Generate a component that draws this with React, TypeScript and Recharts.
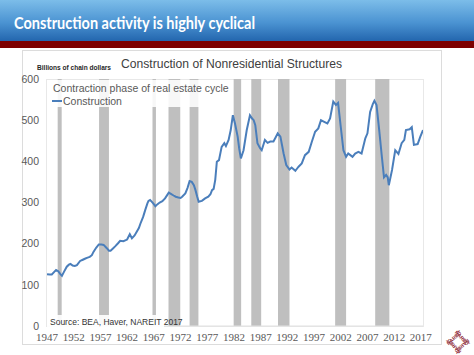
import { ComposedChart, Line, XAxis, YAxis, ReferenceArea } from "recharts";

// Construction of nonresidential structures, billions of chain dollars
const years = [
  1947.0, 1947.5, 1947.9, 1948.4, 1948.7, 1949.1, 1949.5, 1949.8, 1950.2, 1950.7,
  1951.1, 1951.4, 1951.8, 1952.2, 1952.6, 1953.2, 1953.7, 1954.2, 1954.6, 1955.0,
  1955.4, 1955.7, 1956.2, 1956.7, 1957.2, 1957.6, 1958.2, 1958.6, 1958.9, 1959.4,
  1959.8, 1960.3, 1960.7, 1961.3, 1962.0, 1962.5, 1962.9, 1963.4, 1963.8, 1964.2,
  1964.5, 1965.0, 1965.4, 1965.8, 1966.0, 1966.3, 1966.6, 1967.0, 1967.3, 1967.7,
  1968.1, 1968.6, 1969.1, 1969.5, 1969.8, 1970.2, 1970.7, 1971.1, 1971.6, 1972.0,
  1972.3, 1972.9, 1973.3, 1973.7, 1974.1, 1974.5, 1974.8, 1975.1, 1975.4, 1975.7,
  1976.0, 1976.6, 1977.2, 1977.6, 1977.9, 1978.2, 1978.5, 1978.8, 1979.2, 1979.7,
  1980.2, 1980.5, 1981.0, 1981.4, 1981.8, 1982.2, 1982.7, 1983.0, 1983.3, 1983.8,
  1984.4, 1985.0, 1985.4, 1985.7, 1986.0, 1986.4, 1986.9, 1987.2, 1987.8, 1988.3,
  1988.8, 1989.4, 1989.8, 1990.2, 1990.7, 1991.3, 1991.8, 1992.4, 1992.8, 1993.5,
  1993.8, 1994.1, 1994.7, 1995.3, 1996.0, 1996.6, 1997.2, 1997.8, 1998.3, 1998.9,
  1999.5, 2000.0, 2000.6, 2001.1, 2001.5, 2002.0, 2002.5, 2003.0, 2003.4, 2003.8,
  2004.2, 2004.7, 2005.3, 2005.9, 2006.6, 2007.0, 2007.5, 2008.0, 2008.3, 2008.7,
  2009.2, 2009.7, 2010.1, 2010.5, 2010.8, 2011.0, 2011.6, 2012.2, 2012.8, 2013.4,
  2013.9, 2014.2, 2014.9, 2015.3, 2015.7, 2016.4, 2016.9, 2017.4,
];
const construction = [
  126, 125, 125, 132, 136, 133, 126, 122, 132, 144,
  149, 151, 147, 146, 148, 158, 161, 164, 166, 168,
  172, 180, 190, 198, 198, 197, 189, 183, 183, 189,
  194, 201, 207, 206, 210, 223, 213, 220, 229, 238,
  249, 265, 282, 298, 304, 306, 302, 296, 291, 296,
  300, 303, 310, 318, 324, 321, 317, 314, 312, 311,
  314, 322, 335, 352, 350, 342, 330, 315, 302, 303,
  304, 310, 314, 320, 330, 333, 355, 399, 403, 435,
  444, 437, 452, 476, 512, 492, 460, 430, 407, 427,
  476, 512, 504, 500, 488, 444, 432, 427, 452, 445,
  448, 448, 458, 468, 460, 419, 391, 380, 385, 377,
  382, 387, 395, 415, 423, 448, 472, 480, 500, 496,
  492, 504, 545, 537, 542, 484, 427, 411, 419, 415,
  411, 419, 423, 419, 456, 468, 520, 539, 547, 537,
  476, 411, 361, 367, 361, 342, 379, 427, 418, 444,
  452, 476, 478, 483, 440, 442, 460, 476,
];

// contraction phases of the real estate cycle (start, end)
const contractionStart = [1949.0, 1956.75, 1966.75, 1969.75, 1973.7, 1981.95, 1985.25, 1990.25, 2000.95, 2008.45];
const contractionEnd = [1949.75, 1958.6, 1967.4, 1971.95, 1975.35, 1983.35, 1987.1, 1992.4, 2003.0, 2011.1];

const xTicks = [1947, 1952, 1957, 1962, 1967, 1972, 1977, 1982, 1987, 1992, 1997, 2002, 2007, 2012, 2017];
const yTicks = [0, 100, 200, 300, 400, 500, 600];

const data = years.map((year, i) => ({ year, value: construction[i] }));

const LINE = "#4a7ebb";
const BAR = "#bfbfbf";

export default function App() {
  return (
    <div style={{ position: "absolute", left: 0, top: 0, width: 474, height: 355, background: "#fff", overflow: "hidden" }}>
      {/* header banner */}
      <div
        style={{
          position: "absolute", left: 0, top: 0, width: 474, height: 41,
          background: "linear-gradient(to bottom, #7cbde9 0%, #4b93d2 55%, #2366ae 100%)",
        }}
      />
      <div style={{ position: "absolute", left: 0, top: 41, width: 474, height: 7, background: "#7d0000" }} />

      {/* chart panel */}
      <div style={{ position: "absolute", left: 22, top: 50, width: 418, height: 293, border: "1px solid #dcdcdc" }} />
      <div style={{ position: "absolute", left: 46, top: 79, width: 376, height: 246, border: "1px solid #e8e8e8" }} />

      <div style={{ position: "absolute", left: 0, top: 0 }}>
        <ComposedChart width={474} height={355} data={data} margin={{ top: 79, right: 51, bottom: 9, left: 17 }}>
          <XAxis
            type="number"
            dataKey="year"
            domain={[1947, 2017.4]}
            ticks={xTicks}
            interval={0}
            allowDataOverflow
            height={20}
            tickLine={false}
            tickSize={0}
            tickMargin={7}
            axisLine={{ stroke: "#e0e0e0" }}
            tick={{ fill: "#595959", fontSize: 11, fontFamily: "Liberation Serif" }}
          />
          <YAxis
            domain={[0, 600]}
            ticks={yTicks}
            interval={0}
            width={30}
            axisLine={false}
            tickLine={false}
            tickSize={0}
            tickMargin={8}
            tick={{ fill: "#595959", fontSize: 10.5, fontFamily: "Liberation Sans" }}
          />
          {contractionStart.map((s, i) => (
            <ReferenceArea
              key={`c-${i}`}
              x1={s}
              x2={contractionEnd[i]}
              y1={0}
              y2={600}
              fill={BAR}
              fillOpacity={1}
              stroke="none"
              ifOverflow="hidden"
            />
          ))}
          <Line
            type="linear"
            dataKey="value"
            stroke={LINE}
            strokeWidth={2}
            dot={false}
            isAnimationActive={false}
          />
        </ComposedChart>
      </div>

      {/* legend */}
      <div
        style={{
          position: "absolute", left: 47, top: 80, width: 160, height: 27,
          background: "rgba(255,255,255,0.88)", fontFamily: "Liberation Sans", fontSize: 10.5, color: "#595959",
        }}
      >
        <div style={{ display: "flex", alignItems: "center", height: 13, marginTop: 1 }}>
          <span style={{ display: "inline-block", width: 10, height: 6, background: BAR, marginLeft: 5, marginRight: 1 }} />
          <span style={{ whiteSpace: "nowrap" }}>Contraction phase of real estate cycle</span>
        </div>
        <div style={{ display: "flex", alignItems: "center", height: 13 }}>
          <span style={{ display: "inline-block", width: 10, height: 2, background: LINE, marginLeft: 5, marginRight: 1 }} />
          <span>Construction</span>
        </div>
      </div>

      {/* source */}
      <div
        style={{
          position: "absolute", left: 47, top: 315, width: 114, height: 15,
          background: "rgba(255,255,255,0.9)", fontFamily: "Liberation Sans", fontSize: 8.5, color: "#333",
          lineHeight: "15px", paddingLeft: 3, whiteSpace: "nowrap",
        }}
      >
        Source: BEA, Haver, NAREIT 2017
      </div>

      {/* text overlay */}
      <svg width={474} height={355} style={{ position: "absolute", left: 0, top: 0, pointerEvents: "none" }}>
        <text x={14} y={29} fill="#fff" fontFamily="Lato" fontWeight="bold" fontSize={17} textLength={241} lengthAdjust="spacingAndGlyphs">
          Construction activity is highly cyclical
        </text>
        <text x={121} y={68} fill="#404040" fontFamily="Liberation Sans" fontSize={13} textLength={221} lengthAdjust="spacingAndGlyphs">
          Construction of Nonresidential Structures
        </text>
        <text x={37} y={70} fill="#262626" fontFamily="Liberation Sans" fontWeight="bold" fontSize={7.5} textLength={74} lengthAdjust="spacingAndGlyphs">
          Billions of chain dollars
        </text>
        {/* logo */}
        <g transform="translate(458,342)" fill="#8b2232" fontFamily="Liberation Sans" fontWeight="bold" fontSize={5}>
          <text transform="rotate(-45) translate(-9,-4)">NAREIT</text>
          <text transform="rotate(45) translate(-9,-4)">NAREIT</text>
          <text transform="rotate(135) translate(-9,-4)">NAREIT</text>
          <text transform="rotate(-135) translate(-9,-4)">NAREIT</text>
        </g>
      </svg>
    </div>
  );
}
